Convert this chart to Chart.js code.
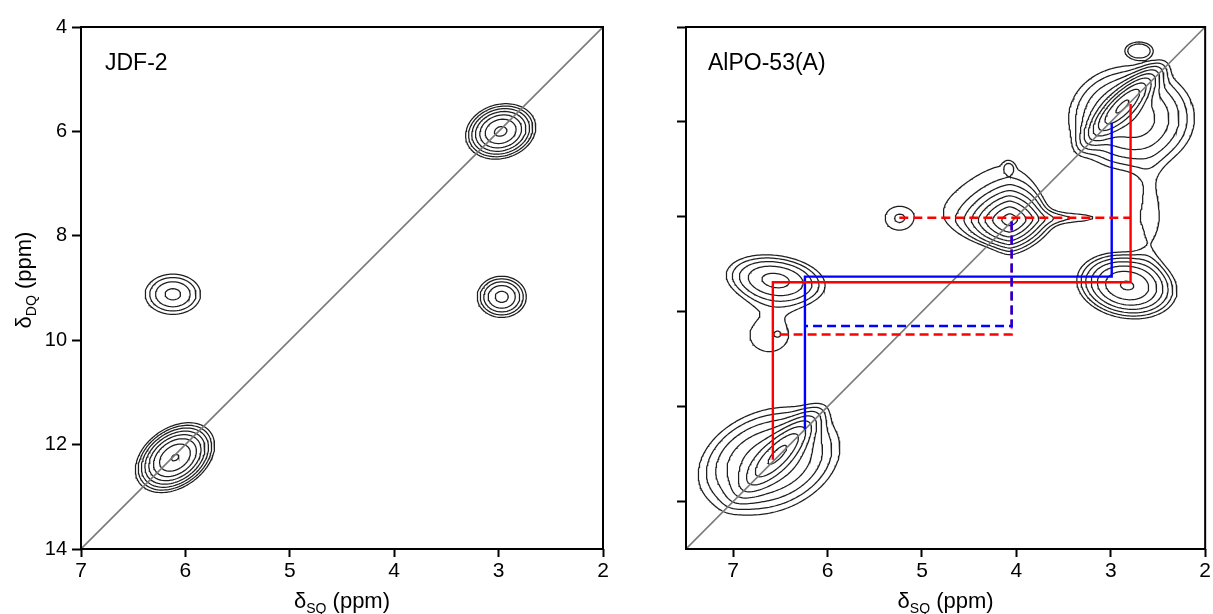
<!DOCTYPE html>
<html>
<head>
<meta charset="utf-8">
<title>DQ-SQ correlation spectra</title>
<script src="https://cdn.jsdelivr.net/npm/chart.js@4.4.1/dist/chart.umd.min.js"></script>
<style>
  body { margin: 0; background: #fff; }
  canvas { position: absolute; top: 0; }
  #left { left: 0; }
  #right { left: 612px; }
</style>
</head>
<body>
<canvas id="left" width="612" height="614"></canvas>
<canvas id="right" width="601" height="614"></canvas>
<script>
// contour levels (relative intensity, ratio 1.35)
const contourLevels = [1, 1.35, 1.82, 2.46, 3.32, 4.48, 6.05, 8.17, 11.0, 14.9, 20.1];

// ---- JDF-2: peak centres (SQ, DQ ppm), widths (ppm), tilt, shape, height ----
const jdfSQ     = [2.98, 6.12, 2.97, 6.10];
const jdfDQ     = [6.00, 9.12, 9.17, 12.25];
const jdfWidSQ  = [0.174, 0.19, 0.146, 0.184];
const jdfWidDQ  = [0.275, 0.275, 0.245, 0.325];
const jdfTilt   = [0.15, 0, 0, 0.35];
const jdfShape  = [2, 2, 2, 2];
const jdfHeight = [6.42, 2.66, 3.65, 8.34];

// ---- AlPO-53(A) ----
const alpoSQ     = [2.78, 2.87, 2.70, 4.07, 4.40, 4.08, 3.35, 2.58, 2.83, 6.55, 6.62, 6.52, 6.62, 6.50, 5.24];
const alpoDQ     = [5.92, 5.65, 4.48, 8.07, 7.45, 6.97, 8.02, 8.00, 9.45, 9.33, 10.50, 10.47, 13.15, 12.95, 8.03];
const alpoWidSQ  = [0.40, 0.20, 0.137, 0.18, 0.62, 0.055, 0.30, 0.13, 0.277, 0.325, 0.30, 0.04, 0.45, 0.22, 0.17];
const alpoWidDQ  = [0.66, 0.40, 0.165, 0.276, 1.00, 0.12, 0.11, 0.65, 0.366, 0.33, 0.50, 0.07, 0.68, 0.45, 0.285];
const alpoTilt   = [0, 0.85, 0, 0, 0, 0, 0, 0, -0.15, -0.2, 0, 0, 0.25, 0.85, 0];
const alpoShape  = [2, 2, 4, 1.5, 8, 4, 2, 2, 2, 2, 2, 2, 2, 2, 4];
const alpoHeight = [4.0, 8.0, 1.3, 8.6, 0.9, 0.5, 1.1, 1.25, 6.23, 3.59, 1.25, 0.25, 4.0, 5.0, 1.355];

// correlation paths (AlPO-53(A))
const redSolidSQ  = [2.79, 2.79, 6.58, 6.58];
const redSolidDQ  = [5.62, 9.38, 9.38, 13.12];
const blueSolidSQ = [2.99, 2.99, 6.24, 6.24];
const blueSolidDQ = [6.02, 9.26, 9.26, 12.48];
const redDashTopSQ = [5.24, 2.79];
const redDashTopDQ = [8.02, 8.02];
const redDashLowSQ = [4.05, 4.05, 6.58];
const redDashLowDQ = [8.10, 10.48, 10.48];
const blueDashSQ  = [4.05, 4.05, 6.24];
const blueDashDQ  = [8.10, 10.30, 10.30];

// diagonals and ticks
const jdfDiagSQ = [7, 2], jdfDiagDQ = [14, 4];
const alpoDiagSQ = [7.5, 2], alpoDiagDQ = [15, 4];
const jdfTicksSQ = [7, 6, 5, 4, 3, 2];
const jdfTicksDQ = [4, 6, 8, 10, 12, 14];
const alpoTicksSQ = [7, 6, 5, 4, 3, 2];
const alpoTicksDQ = [4, 6, 8, 10, 12, 14];

const FONT = '"Liberation Sans", Arial, Helvetica, sans-serif';

// shape 2: gaussian (with tilt); >2: flat-topped round peak; <2: diamond-like
function intensity(pk, x, y) {
  let s = 0;
  for (let k = 0; k < pk.sq.length; k++) {
    const u = (x - pk.sq[k]) / pk.wsq[k];
    const v = (y - pk.dq[k]) / pk.wdq[k];
    const r = pk.tilt[k], e = pk.shape[k];
    let q;
    if (e === 2) q = (u * u - 2 * r * u * v + v * v) / (1 - r * r);
    else if (e > 2) q = Math.pow(u * u + v * v, e / 2);
    else q = Math.pow(Math.abs(u), e) + Math.pow(Math.abs(v), e);
    if (q < 60) s += pk.height[k] * Math.exp(-q / 2);
  }
  return s;
}

// marching squares, segments linked into polylines, NaN point between lines
function contourPoints(pk, x0, x1, y0, y1, nx, ny) {
  const W = nx + 1;
  const gx = i => x0 + (x1 - x0) * i / nx;
  const gy = j => y0 + (y1 - y0) * j / ny;
  const val = new Float64Array(W * (ny + 1));
  for (let j = 0; j <= ny; j++)
    for (let i = 0; i <= nx; i++) val[j * W + i] = intensity(pk, gx(i), gy(j));

  const out = [];
  for (const L of contourLevels) {
    const pts = new Map();
    const segs = [];
    const edge = (ia, ja, ib, jb, id) => {
      if (!pts.has(id)) {
        const va = val[ja * W + ia], vb = val[jb * W + ib];
        const t = (L - va) / (vb - va);
        pts.set(id, { x: gx(ia + (ib - ia) * t), y: gy(ja + (jb - ja) * t) });
      }
      return id;
    };
    for (let j = 0; j < ny; j++) {
      for (let i = 0; i < nx; i++) {
        const va = val[j * W + i], vb = val[j * W + i + 1];
        const vc = val[(j + 1) * W + i + 1], vd = val[(j + 1) * W + i];
        const a = va >= L, b = vb >= L, c = vc >= L, d = vd >= L;
        if (a === b && b === c && c === d) continue;
        const e0 = a !== b ? edge(i, j, i + 1, j, 2 * (j * W + i)) : -1;
        const e1 = b !== c ? edge(i + 1, j, i + 1, j + 1, 2 * (j * W + i + 1) + 1) : -1;
        const e2 = d !== c ? edge(i, j + 1, i + 1, j + 1, 2 * ((j + 1) * W + i)) : -1;
        const e3 = a !== d ? edge(i, j, i, j + 1, 2 * (j * W + i) + 1) : -1;
        const cross = [e0, e1, e2, e3].filter(e => e >= 0);
        if (cross.length === 2) {
          segs.push(cross);
        } else if (cross.length === 4) {
          const mid = (va + vb + vc + vd) / 4 >= L;
          if (a === mid) { segs.push([e0, e1]); segs.push([e2, e3]); }
          else { segs.push([e3, e0]); segs.push([e1, e2]); }
        }
      }
    }
    const adj = new Map();
    segs.forEach((sg, s) => sg.forEach(id => {
      if (!adj.has(id)) adj.set(id, []);
      adj.get(id).push(s);
    }));
    const used = new Uint8Array(segs.length);
    const extend = arr => {
      for (;;) {
        const end = arr[arr.length - 1];
        const next = adj.get(end).find(s => !used[s]);
        if (next === undefined) break;
        used[next] = 1;
        const [p, q] = segs[next];
        arr.push(p === end ? q : p);
      }
    };
    for (let s0 = 0; s0 < segs.length; s0++) {
      if (used[s0]) continue;
      used[s0] = 1;
      const chain = [segs[s0][0], segs[s0][1]];
      extend(chain);
      const back = [chain[0]];
      extend(back);
      back.reverse().concat(chain.slice(1)).forEach(id => out.push(pts.get(id)));
      out.push({ x: NaN, y: NaN });
    }
  }
  return out;
}

const toXY = (xs, ys) => xs.map((x, i) => ({ x, y: ys[i] }));

function pathSet(xs, ys, color, dashed, order) {
  return {
    data: toXY(xs, ys), showLine: true, borderColor: color, borderWidth: 2.4,
    borderDash: dashed ? [9, 5] : [], pointRadius: 0, pointHoverRadius: 0, order
  };
}

function drawDelta(ctx, sub, cx, cy, rotate) {
  const big = '22px ' + FONT, small = '14px ' + FONT;
  ctx.save();
  ctx.translate(cx, cy);
  if (rotate) ctx.rotate(-Math.PI / 2);
  ctx.fillStyle = '#000';
  ctx.textAlign = 'left';
  ctx.textBaseline = 'alphabetic';
  ctx.font = big;
  const w1 = ctx.measureText('δ').width, w3 = ctx.measureText(' (ppm)').width;
  ctx.font = small;
  const w2 = ctx.measureText(sub).width;
  let x = -(w1 + w2 + w3) / 2;
  ctx.font = big; ctx.fillText('δ', x, 0); x += w1;
  ctx.font = small; ctx.fillText(sub, x, 5); x += w2;
  ctx.font = big; ctx.fillText(' (ppm)', x, 0);
  ctx.restore();
}

function makePanel(id, cfg) {
  const frame = {
    id: 'frame' + id,
    afterDraw(chart) {
      const { ctx, chartArea: a } = chart;
      ctx.save();
      ctx.strokeStyle = '#000';
      ctx.lineWidth = 2;
      ctx.strokeRect(a.left, a.top, a.right - a.left, a.bottom - a.top);
      ctx.fillStyle = '#000';
      ctx.font = '23px ' + FONT;
      ctx.textBaseline = 'alphabetic';
      ctx.fillText(cfg.name, a.left + cfg.nameDx, 70);
      ctx.restore();
      drawDelta(ctx, 'SQ', (a.left + a.right) / 2, 608, false);
      if (cfg.yTitle) drawDelta(ctx, 'DQ', 31, 280, true);
    }
  };
  return new Chart(document.getElementById(id), {
    type: 'scatter',
    data: {
      datasets: [
        ...cfg.paths,
        { data: toXY(cfg.diagSQ, cfg.diagDQ), showLine: true, borderColor: '#7a7a7a',
          borderWidth: 1.6, pointRadius: 0, pointHoverRadius: 0, order: 5 },
        { data: cfg.contours, showLine: true, spanGaps: false, borderColor: '#1e1e1e',
          borderWidth: 1.25, pointRadius: 0, pointHoverRadius: 0, order: 9 }
      ]
    },
    options: {
      responsive: false,
      animation: false,
      events: [],
      devicePixelRatio: 1,
      layout: { padding: { left: 0, top: 27, right: cfg.padRight, bottom: 0 } },
      plugins: { legend: { display: false }, tooltip: { enabled: false } },
      scales: {
        x: {
          type: 'linear', min: cfg.xMin, max: cfg.xMax, reverse: true,
          afterBuildTicks: s => { s.ticks = cfg.ticksSQ.map(v => ({ value: v })); },
          afterFit: s => { s.height = 65; },
          ticks: { color: '#000', font: { family: FONT, size: 21 }, padding: 2, maxRotation: 0, autoSkip: false },
          grid: { display: true, drawOnChartArea: false, drawTicks: true, tickLength: 8, tickWidth: 2, tickColor: '#000' },
          border: { display: false }
        },
        y: {
          type: 'linear', min: cfg.yMin, max: cfg.yMax, reverse: true,
          afterBuildTicks: s => { s.ticks = cfg.ticksDQ.map(v => ({ value: v })); },
          afterFit: s => { s.width = cfg.yWidth; },
          ticks: { display: cfg.yLabels, color: '#000', font: { family: FONT, size: 20 }, padding: 5 },
          grid: { display: true, drawOnChartArea: false, drawTicks: true, tickLength: 9, tickWidth: 2, tickColor: '#000' },
          border: { display: false }
        }
      }
    },
    plugins: [frame]
  });
}

const jdfPeaks = { sq: jdfSQ, dq: jdfDQ, wsq: jdfWidSQ, wdq: jdfWidDQ, tilt: jdfTilt, shape: jdfShape, height: jdfHeight };
const alpoPeaks = { sq: alpoSQ, dq: alpoDQ, wsq: alpoWidSQ, wdq: alpoWidDQ, tilt: alpoTilt, shape: alpoShape, height: alpoHeight };

makePanel('left', {
  name: 'JDF-2', nameDx: 24, padRight: 9, yWidth: 81, yLabels: true, yTitle: true,
  xMin: 2, xMax: 7, yMin: 4, yMax: 14, ticksSQ: jdfTicksSQ, ticksDQ: jdfTicksDQ,
  diagSQ: jdfDiagSQ, diagDQ: jdfDiagDQ,
  contours: contourPoints(jdfPeaks, 2, 7, 4, 14, 250, 250),
  paths: []
});

makePanel('right', {
  name: 'AlPO-53(A)', nameDx: 22, padRight: 7, yWidth: 74, yLabels: false, yTitle: false,
  xMin: 2, xMax: 7.5, yMin: 4, yMax: 15, ticksSQ: alpoTicksSQ, ticksDQ: alpoTicksDQ,
  diagSQ: alpoDiagSQ, diagDQ: alpoDiagDQ,
  contours: contourPoints(alpoPeaks, 2, 7.5, 4, 15, 275, 275),
  paths: [
    pathSet(blueDashSQ, blueDashDQ, '#0000ff', true, 0),
    pathSet(redDashLowSQ, redDashLowDQ, '#ff0000', true, 1),
    pathSet(redDashTopSQ, redDashTopDQ, '#ff0000', true, 1),
    pathSet(blueSolidSQ, blueSolidDQ, '#0000ff', false, 2),
    pathSet(redSolidSQ, redSolidDQ, '#ff0000', false, 1)
  ]
});
</script>
</body>
</html>
